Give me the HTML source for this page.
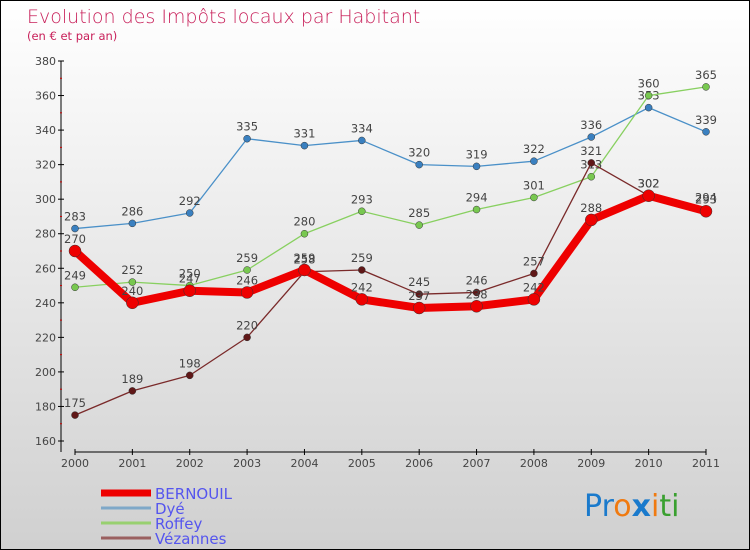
<!DOCTYPE html>
<html><head><meta charset="utf-8"><style>
body{margin:0}
#c{width:748px;height:548px;border:1px solid #000;background:linear-gradient(#fff,#d0d0d0);position:relative;font-family:"DejaVu Sans","Liberation Sans",sans-serif}
</style></head><body>
<div id="c">
<svg id="s" width="748" height="548" style="position:absolute;left:0;top:0">
<text x="26" y="22" font-size="19" fill="#c8205a" font-family="DejaVu Sans,sans-serif" font-weight="200">Evolution des Impôts locaux par Habitant</text>
<text x="26" y="39" font-size="11.5" fill="#c8205a">(en € et par an)</text>
<g id="axes"></g><g id="lines"></g><g id="legend"></g>
<text x="583" y="515" font-size="30" font-family="DejaVu Sans,sans-serif"><tspan fill="#1a7acc">Pr</tspan><tspan fill="#f07a10">o</tspan><tspan fill="#1a7acc" font-weight="bold">x</tspan><tspan fill="#f07a10">i</tspan><tspan fill="#3aa030">ti</tspan></text>
</svg>
</div>
<script>
const years=[2000,2001,2002,2003,2004,2005,2006,2007,2008,2009,2010,2011];
const yTicks=[160,180,200,220,240,260,280,300,320,340,360,380];
const bernouil=[270,240,247,246,259,242,237,238,242,288,302,293];
const dye=[283,286,292,335,331,334,320,319,322,336,353,339];
const roffey=[249,252,250,259,280,293,285,294,301,313,360,365];
const vezannes=[175,189,198,220,258,259,245,246,257,321,302,294];
const NS='http://www.w3.org/2000/svg';
const X=i=>74+i*(705-74)/11;
const Y=v=>440-(v-160)*(440-60)/220;
function mk(t,a,p){const e=document.createElementNS(NS,t);for(const k in a)e.setAttribute(k,a[k]);p.appendChild(e);return e;}
const ax=document.getElementById('axes');
let e=mk('line',{x1:60,y1:Y(380),x2:60,y2:451,stroke:'#000'},ax);

e=mk('line',{x1:X(0),y1:451,x2:X(11),y2:451,stroke:'#000'},ax);

yTicks.forEach(v=>{
 mk('line',{x1:57,x2:63,y1:Y(v),y2:Y(v),stroke:'#000'},ax);
 if(v<380)mk('line',{x1:59,x2:61,y1:Y(v+10),y2:Y(v+10),stroke:'#c00'},ax);
 const t=mk('text',{x:55,y:Y(v)+4,'text-anchor':'end','font-size':11,fill:'#444'},ax);t.textContent=v;
 
});
years.forEach((y,i)=>{
 mk('line',{x1:X(i),x2:X(i),y1:448,y2:454,stroke:'#000'},ax);
 const t=mk('text',{x:X(i),y:466,'text-anchor':'middle','font-size':11,fill:'#444'},ax);t.textContent=y;
 
});
const series=[
 {n:'Dyé',d:dye,c:'#4a90c8',w:1.3,r:3.5,mc:'#3a80c0'},
 {n:'Roffey',d:roffey,c:'#88d060',w:1.3,r:3.5,mc:'#78c850'},
 {n:'Vézannes',d:vezannes,c:'#7a2a2a',w:1.3,r:3.5,mc:'#601818'},
 {n:'BERNOUIL',d:bernouil,c:'#ee0000',w:8,r:6,mc:'#ee0000'}];
const lg=document.getElementById('lines');
series.forEach(s=>{
 const g=mk('g',{},lg);
 
 const p=mk('polyline',{points:s.d.map((v,i)=>X(i)+','+Y(v)).join(' '),fill:'none',stroke:s.c,'stroke-width':s.w,'stroke-linejoin':'round'},g);
 
 s.d.forEach((v,i)=>{
  const c=mk('circle',{cx:X(i),cy:Y(v),r:s.r,fill:s.mc,stroke:'#333','stroke-width':0.5},g);
  
  const t=mk('text',{x:X(i),y:Y(v)-8,'text-anchor':'middle','font-size':11.5,fill:'#444'},g);t.textContent=v;
  
 });
});
const leg=document.getElementById('legend');
[['BERNOUIL','#ee0000',7],['Dyé','#7fa8c8',3],['Roffey','#98d070',3],['Vézannes','#9a6060',3]].forEach((l,i)=>{
 const y=492+i*15;
 const g=mk('g',{},leg);
 
 mk('line',{x1:100,x2:150,y1:y,y2:y,stroke:l[1],'stroke-width':l[2]},g);
 const t=mk('text',{x:154,y:y+6,'font-size':15,fill:'#5555ee'},g);t.textContent=l[0];
});
</script>
</body></html>
